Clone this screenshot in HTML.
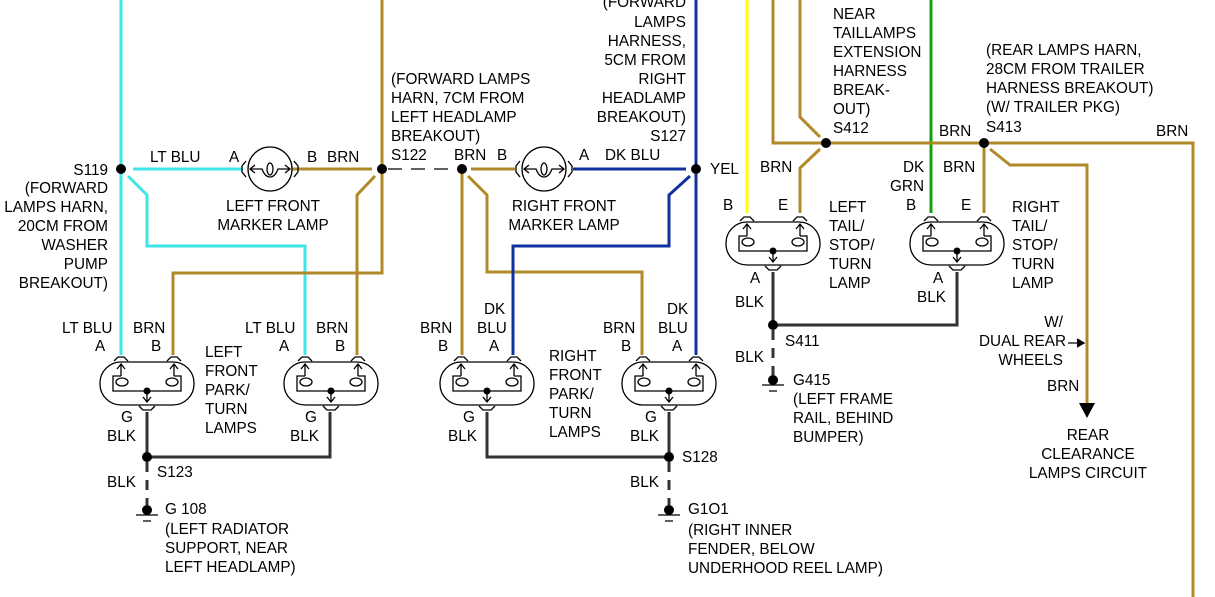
<!DOCTYPE html>
<html><head><meta charset="utf-8"><style>
html,body{margin:0;padding:0;background:#fff;}
svg{display:block;}
text{font-family:"Liberation Sans",sans-serif;font-size:15.3px;fill:#000;}
.r{text-anchor:end;}
.m{text-anchor:middle;}
</style></head><body>
<svg width="1215" height="597" viewBox="0 0 1215 597" xmlns="http://www.w3.org/2000/svg">
<defs>
<g id="lamp" fill="none" stroke="#000" stroke-width="1.3">
  <rect x="-47" y="0" width="94" height="43" rx="21"/>
  <path d="M-33,-1 L-29,-5 L-23,-5 L-19,-1 M20,-1 L24,-5 L30,-5 L34,-1"/>
  <path d="M-26,14 L-26,2 M-30,7 L-26,2 L-22,7 M27,14 L27,2 M23,7 L27,2 L31,7"/>
  <path d="M-26,14 L-34,14 L-34,29 L34,29 L34,14 L27,14"/>
  <ellipse cx="-25" cy="20" rx="6" ry="4"/>
  <ellipse cx="25" cy="20" rx="6" ry="4"/>
  <path d="M0,29 L0,40 M-4,35 L0,40 L4,35"/>
  <path d="M-8,44 L-4,48 L4,48 L8,44"/>
  <circle cx="0" cy="29" r="3.5" fill="#000" stroke="none"/>
</g>
<g id="mk" fill="none" stroke="#000" stroke-width="1.3">
  <circle cx="0" cy="0" r="22"/>
  <path d="M-24,-8 L-28,-3 L-28,3 L-24,8 M24,-8 L28,-3 L28,3 L24,8"/>
  <path d="M-20,0 L-8,0 Q-5,8 0,8 Q5,8 8,0 L20,0 M-15,-4 L-20,0 L-15,4 M15,-4 L20,0 L15,4"/>
  <ellipse cx="0" cy="0" rx="3" ry="6"/>
</g>
<g id="gnd" stroke="#000" stroke-width="1.3">
  <circle cx="0" cy="0" r="5" fill="#000" stroke="none"/>
  <path d="M-11,5 L11,5 M-4,11 L4,11"/>
</g>
</defs>

<g fill="none" stroke-width="3">
<path stroke="#3ee6e6" d="M121,0 L121,355 M133,169 L243,169 M128,176 L147,195 L147,246 L305,246 L305,355"/>
<path stroke="#b08a28" d="M292,169 L372,169 M382,0 L382,273 L173,273 L173,355 M375,176 L357,195 L357,355"/>
<path stroke="#000" stroke-width="1.3" stroke-dasharray="14,9" d="M388,169 L456,169"/>
<path stroke="#b08a28" d="M471,169 L515,169 M462,169 L462,355 M468,176 L487,195 L487,272 L642,272 L642,355"/>
<path stroke="#1030a0" d="M573,169 L686,169 M696,0 L696,355 M690,176 L669,195 L669,246 L513,246 L513,355"/>
<path stroke="#333" d="M147,412 L147,457 L330,457 L330,412 M487,412 L487,457 L669,457 L669,412 M773,272 L773,325 L957,325 L957,272"/>
<path stroke="#333" stroke-dasharray="10,8" d="M147,462 L147,505 M669,462 L669,505 M773,330 L773,375"/>
<path stroke="#ffff00" d="M747,0 L747,213"/>
<path stroke="#10a010" d="M931,0 L931,213"/>
<path stroke="#b08a28" d="M773,0 L773,143 L1193,143 L1193,597 M800,0 L800,117 L820,137 M820,149 L800,168 L800,213 M984,143 L984,213 M990,149 L1010,165 L1087,165 L1087,403"/>
</g>
<path d="M1079,403 L1095,403 L1087,418 Z" fill="#000"/>
<path d="M1068,343 L1082,343 M1077,339 L1084,343 L1077,347" stroke="#000" stroke-width="1.3" fill="#000"/>

<g fill="#000">
<circle cx="121" cy="169" r="5"/><circle cx="382" cy="169" r="5"/>
<circle cx="462" cy="169" r="5"/><circle cx="696" cy="169" r="5"/>
<circle cx="147" cy="457" r="5"/><circle cx="669" cy="457" r="5"/>
<circle cx="826" cy="143" r="5"/><circle cx="984" cy="143" r="5"/>
<circle cx="773" cy="325" r="5"/>
</g>

<use href="#mk" x="270" y="169"/>
<use href="#mk" x="544" y="169"/>
<use href="#lamp" x="147" y="362"/>
<use href="#lamp" x="331" y="362"/>
<use href="#lamp" x="487" y="362"/>
<use href="#lamp" x="669" y="362"/>
<use href="#lamp" x="773" y="222"/>
<use href="#lamp" x="957" y="222"/>
<use href="#gnd" x="147" y="510"/>
<use href="#gnd" x="669" y="510"/>
<use href="#gnd" x="773" y="380"/>

<text class="r" x="108" y="175">S119</text>
<text class="r" x="108" y="193">(FORWARD</text>
<text class="r" x="108" y="212">LAMPS HARN,</text>
<text class="r" x="108" y="231">20CM FROM</text>
<text class="r" x="108" y="250">WASHER</text>
<text class="r" x="108" y="269">PUMP</text>
<text class="r" x="108" y="288">BREAKOUT)</text>
<text x="150" y="162">LT BLU</text>
<text x="229" y="162">A</text>
<text x="307" y="162">B</text><text x="327" y="162">BRN</text>
<text class="m" x="273" y="230" dy="-19">LEFT FRONT</text>
<text class="m" x="273" y="230">MARKER LAMP</text>
<text x="391" y="84">(FORWARD LAMPS</text>
<text x="391" y="103">HARN, 7CM FROM</text>
<text x="391" y="122">LEFT HEADLAMP</text>
<text x="391" y="141">BREAKOUT)</text>
<text x="391" y="160">S122</text>
<text x="454" y="160">BRN</text><text x="497" y="160">B</text>
<text x="579" y="160">A</text><text x="605" y="160">DK BLU</text>
<text class="m" x="564" y="211">RIGHT FRONT</text>
<text class="m" x="564" y="230">MARKER LAMP</text>
<text class="r" x="686" y="7">(FORWARD</text>
<text class="r" x="686" y="27">LAMPS</text>
<text class="r" x="686" y="46">HARNESS,</text>
<text class="r" x="686" y="65">5CM FROM</text>
<text class="r" x="686" y="84">RIGHT</text>
<text class="r" x="686" y="103">HEADLAMP</text>
<text class="r" x="686" y="122">BREAKOUT)</text>
<text class="r" x="686" y="141">S127</text>
<text x="710" y="174">YEL</text>

<text x="62" y="333">LT BLU</text><text x="133" y="333">BRN</text>
<text x="95" y="351">A</text><text x="151" y="351">B</text>
<text x="245" y="333">LT BLU</text><text x="316" y="333">BRN</text>
<text x="279" y="351">A</text><text x="335" y="351">B</text>
<text x="205" y="357">LEFT</text><text x="205" y="376">FRONT</text><text x="205" y="395">PARK/</text><text x="205" y="414">TURN</text><text x="205" y="433">LAMPS</text>
<text x="121" y="422">G</text><text x="107" y="441">BLK</text>
<text x="305" y="422">G</text><text x="290" y="441">BLK</text>
<text x="157" y="477">S123</text><text x="107" y="487">BLK</text>
<text x="165" y="514">G 108</text>
<text x="165" y="534">(LEFT RADIATOR</text>
<text x="165" y="553">SUPPORT, NEAR</text>
<text x="165" y="572">LEFT HEADLAMP)</text>

<text x="420" y="333">BRN</text><text x="438" y="351">B</text>
<text x="484" y="314">DK</text><text x="477" y="333">BLU</text><text x="489" y="351">A</text>
<text x="603" y="333">BRN</text><text x="621" y="351">B</text>
<text x="667" y="314">DK</text><text x="658" y="333">BLU</text><text x="672" y="351">A</text>
<text x="549" y="361">RIGHT</text><text x="549" y="380">FRONT</text><text x="549" y="399">PARK/</text><text x="549" y="418">TURN</text><text x="549" y="437">LAMPS</text>
<text x="463" y="422">G</text><text x="448" y="441">BLK</text>
<text x="645" y="422">G</text><text x="630" y="441">BLK</text>
<text x="682" y="462">S128</text><text x="630" y="487">BLK</text>
<text x="688" y="514">G1O1</text>
<text x="688" y="535">(RIGHT INNER</text>
<text x="688" y="554">FENDER, BELOW</text>
<text x="688" y="573">UNDERHOOD REEL LAMP)</text>

<text x="833" y="19">NEAR</text><text x="833" y="38">TAILLAMPS</text><text x="833" y="57">EXTENSION</text>
<text x="833" y="76">HARNESS</text><text x="833" y="95">BREAK-</text><text x="833" y="114">OUT)</text><text x="833" y="133">S412</text>
<text x="939" y="136">BRN</text>
<text x="986" y="55">(REAR LAMPS HARN,</text>
<text x="986" y="74">28CM FROM TRAILER</text>
<text x="986" y="93">HARNESS BREAKOUT)</text>
<text x="986" y="112">(W/ TRAILER PKG)</text>
<text x="986" y="132">S413</text>
<text x="1156" y="136">BRN</text>
<text x="760" y="172">BRN</text>
<text x="723" y="210">B</text><text x="778" y="210">E</text>
<text x="829" y="212">LEFT</text><text x="829" y="231">TAIL/</text><text x="829" y="250">STOP/</text><text x="829" y="269">TURN</text><text x="829" y="288">LAMP</text>
<text x="750" y="283">A</text><text x="735" y="307">BLK</text>
<text x="785" y="346">S411</text><text x="735" y="362">BLK</text>
<text x="793" y="385">G415</text>
<text x="793" y="404">(LEFT FRAME</text>
<text x="793" y="423">RAIL, BEHIND</text>
<text x="793" y="442">BUMPER)</text>
<text x="903" y="172">DK</text><text x="890" y="191">GRN</text><text x="943" y="172">BRN</text>
<text x="906" y="210">B</text><text x="961" y="210">E</text>
<text x="1012" y="212">RIGHT</text><text x="1012" y="231">TAIL/</text><text x="1012" y="250">STOP/</text><text x="1012" y="269">TURN</text><text x="1012" y="288">LAMP</text>
<text x="933" y="283">A</text><text x="917" y="302">BLK</text>
<text class="r" x="1063" y="327">W/</text>
<text class="r" x="1066" y="346">DUAL REAR</text>
<text class="r" x="1063" y="365">WHEELS</text>
<text x="1047" y="391">BRN</text>
<text class="m" x="1088" y="440">REAR</text>
<text class="m" x="1088" y="459">CLEARANCE</text>
<text class="m" x="1088" y="478">LAMPS CIRCUIT</text>
</svg>
</body></html>
